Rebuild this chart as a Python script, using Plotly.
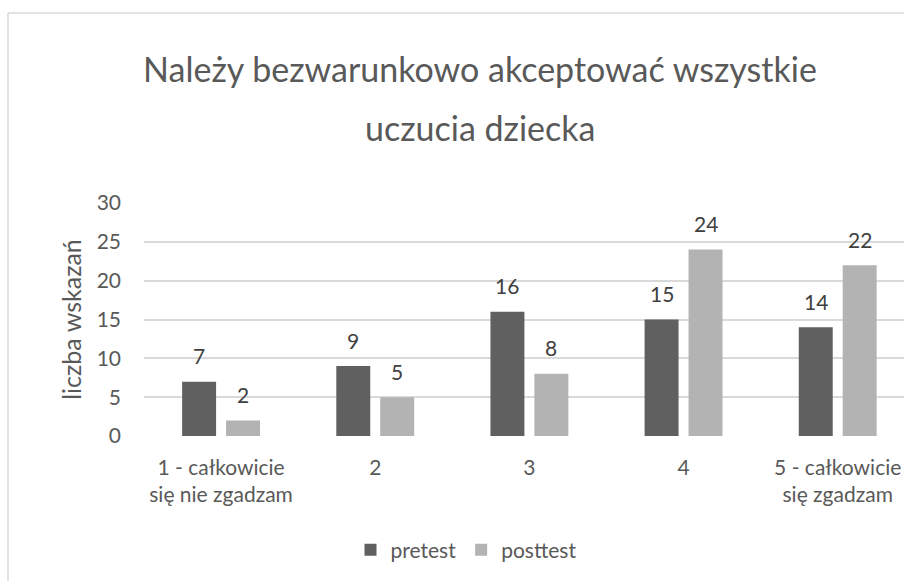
import plotly.graph_objects as go

categories = ["1 - całkowicie<br>się nie zgadzam", "2", "3", "4", "5 - całkowicie<br>się zgadzam"]
pretest = [7, 9, 16, 15, 14]
posttest = [2, 5, 8, 24, 22]
series_names = ["pretest", "posttest"]
title_lines = ["Należy bezwarunkowo akceptować wszystkie", "uczucia dziecka"]
y_title = "liczba wskazań"
y_ticks = [0, 5, 10, 15, 20, 25, 30]

DARK = "#606060"
LIGHT = "#b3b3b3"
TXT = "#595959"
FONT = "Lato, Open Sans, sans-serif"

W, H = 904, 581
ML, MR, MT, MB = 144, 0, 203, 145
plot_w = W - ML - MR
plot_h = H - MT - MB

fig = go.Figure()
fig.add_trace(go.Bar(x=categories, y=pretest, name=series_names[0],
                     marker=dict(color=DARK, line=dict(width=0))))
fig.add_trace(go.Bar(x=categories, y=posttest, name=series_names[1],
                     marker=dict(color=LIGHT, line=dict(width=0))))

# data labels
xmax = 4.43
cat_px = plot_w / (xmax + 0.5)
bargap = 0.43
bargroupgap = 0.227
slot = cat_px * (1 - bargap) / 2
annotations = []
for vals, sgn in ((pretest, -1), (posttest, 1)):
    for i, v in enumerate(vals):
        annotations.append(dict(x=i, y=v, xref="x", yref="y", text=str(v),
                                showarrow=False, xshift=sgn * slot / 2, yshift=26,
                                font=dict(size=21, color="#404040", family=FONT)))

# second title line
annotations.append(dict(text=title_lines[1], xref="paper", yref="paper",
                        x=(480 - ML) / plot_w, y=(H - MB - 127) / plot_h,
                        xanchor="center", yanchor="middle", showarrow=False,
                        font=dict(size=34, color=TXT, family=FONT)))

bx0 = (8 - ML) / plot_w
by1 = (H - MB - 13) / plot_h
border = dict(color="#d9d9d9", width=1.5)

fig.update_layout(
    width=W, height=H,
    margin=dict(l=ML, r=MR, t=MT, b=MB, pad=0),
    paper_bgcolor="white", plot_bgcolor="white",
    barmode="group", bargap=bargap, bargroupgap=bargroupgap,
    font=dict(family=FONT, color=TXT, size=21),
    title=dict(text=title_lines[0], x=480 / W, xanchor="center", xref="container",
               y=1 - 70 / H, yanchor="middle", yref="container",
               font=dict(size=34, color=TXT, family=FONT)),
    xaxis=dict(range=[-0.5, xmax], showgrid=False, showline=False, ticks="",
               tickfont=dict(size=21, color=TXT), ticklabelstandoff=17,
               fixedrange=True),
    yaxis=dict(range=[0, 30], tickvals=y_ticks, showgrid=True, gridcolor="#d9d9d9",
               gridwidth=1.5, zeroline=False, showline=False, ticks="",
               tickfont=dict(size=21, color=TXT), ticklabelstandoff=22,
               title=dict(text=y_title, font=dict(size=25, color=TXT), standoff=7)),
    legend=dict(orientation="h", x=466 / W, xanchor="center", xref="container",
                y=1 - 550 / H, yanchor="middle", yref="container",
                font=dict(size=21, color=TXT), itemwidth=30, traceorder="normal"),
    annotations=annotations,
    shapes=[
        dict(type="line", xref="paper", yref="paper", x0=bx0, x1=1.05, y0=by1, y1=by1,
             line=border, layer="below"),
        dict(type="line", xref="paper", yref="paper", x0=bx0, x1=bx0, y0=-1.0, y1=by1,
             line=border, layer="below"),
    ],
)

fig.write_html("out.html", config={"displayModeBar": False},
               post_script="document.body.style.margin='0';document.body.style.overflow='hidden';")
